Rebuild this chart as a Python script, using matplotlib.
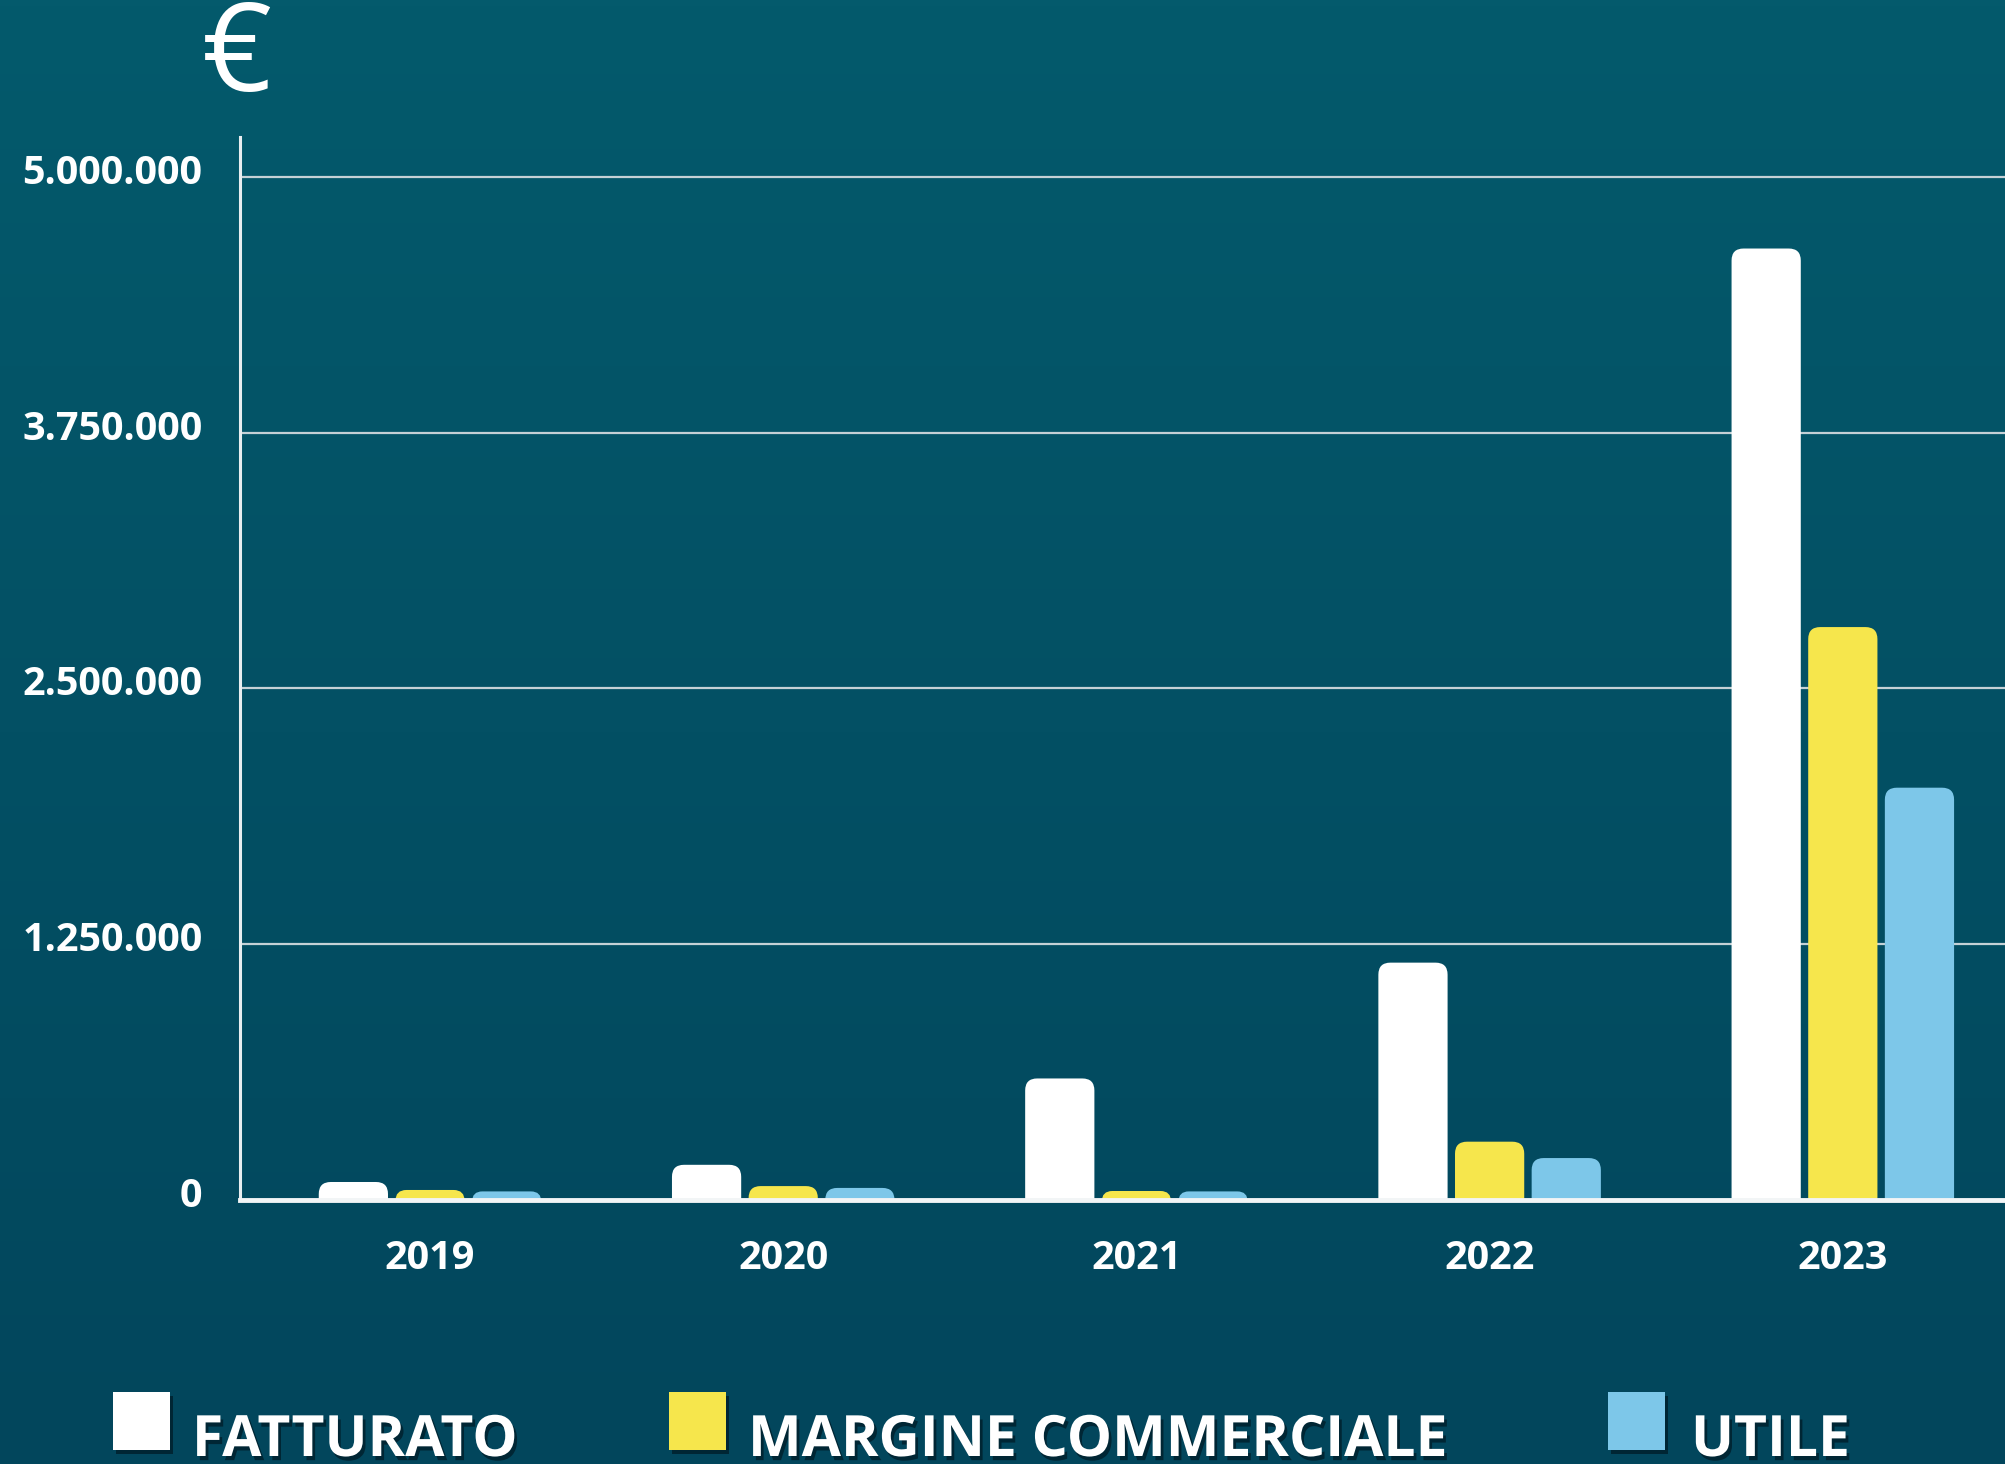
import numpy as np
import matplotlib
matplotlib.use("Agg")
import matplotlib.pyplot as plt
from matplotlib.patches import FancyBboxPatch, Rectangle
import matplotlib.patheffects as pe
import matplotlib.transforms as mtransforms

# ---------------- data ----------------
years = ["2019", "2020", "2021", "2022", "2023"]
series_names = ["FATTURATO", "MARGINE COMMERCIALE", "UTILE"]
fatturato = [88000, 172000, 594000, 1160000, 4650000]
margine = [49000, 68000, 44000, 285000, 2800000]
utile = [42000, 59000, 42000, 205000, 2015000]
y_ticks = [0, 1250000, 2500000, 3750000, 5000000]
y_tick_labels = ["0", "1.250.000", "2.500.000", "3.750.000", "5.000.000"]
colors = ["#ffffff", "#f6e64c", "#7dc7e9"]

plt.rcParams["font.family"] = ["Open Sans", "DejaVu Sans"]

W, H = 2006, 1464
DPI = 100
fig = plt.figure(figsize=(W / DPI, H / DPI), dpi=DPI)

# background gradient
bg = fig.add_axes([0, 0, 1, 1], zorder=-10)
top = np.array([4, 90, 108]) / 255.0
bot = np.array([2, 70, 92]) / 255.0
t = np.linspace(0, 1, 256)[:, None]
grad = (top[None, :] * (1 - t) + bot[None, :] * t)[:, None, :]
bg.imshow(grad, aspect="auto", extent=[0, 1, 0, 1])
bg.axis("off")

# main axes
left_px, right_px, bottom_px, top_px = 240, 2006, 1200, 137
ax = fig.add_axes([left_px / W, 1 - bottom_px / H, (right_px - left_px) / W, (bottom_px - top_px) / H])
ax.set_facecolor("none")
xlim = (-0.538, 4.462)
ylim = (0, 5195000)
ax.set_xlim(*xlim)
ax.set_ylim(*ylim)

x = np.arange(len(years))
bw = 0.196
step = 0.217
all_series = [fatturato, margine, utile]

px_per_x = (right_px - left_px) / (xlim[1] - xlim[0])
px_per_y = (bottom_px - top_px) / (ylim[1] - ylim[0])
r_px = 12
rx = r_px / px_per_x
ry = r_px / px_per_y
aspect = ry / rx

for k, (vals, col) in enumerate(zip(all_series, colors)):
    bars = ax.bar(x + (k - 1) * step, vals, width=bw, color=col, zorder=3)
    for b in bars:
        bx, bwid, bh = b.get_x(), b.get_width(), b.get_height()
        b.remove()
        hh = bh + ry
        r_eff = min(rx, bwid / 2, hh / aspect / 2)
        p = FancyBboxPatch((bx, -ry), bwid, hh,
                           boxstyle=f"round,pad=0,rounding_size={r_eff}",
                           mutation_aspect=aspect, facecolor=col,
                           edgecolor="none", zorder=3)
        ax.add_patch(p)

ax.set_yticks(y_ticks)
ax.set_yticklabels(y_tick_labels)
ax.set_xticks(x)
ax.set_xticklabels(years)
ax.yaxis.grid(True, color="#c5d1d6", linewidth=1.6, zorder=1)
ax.set_axisbelow(True)
for s in ["top", "right"]:
    ax.spines[s].set_visible(False)
ax.spines["left"].set_color("#e8eef0")
ax.spines["left"].set_linewidth(2.2)
ax.spines["bottom"].set_color("#f2f5f6")
ax.spines["bottom"].set_linewidth(3.5)
ax.spines["bottom"].set_zorder(5)
ax.tick_params(axis="both", length=0, colors="white")
ax.tick_params(axis="y", pad=27)
ax.tick_params(axis="x", pad=28)
up = mtransforms.ScaledTranslation(0, 8 / DPI, fig.dpi_scale_trans)
for lab in ax.get_yticklabels():
    lab.set_transform(lab.get_transform() + up)
for lab in ax.get_yticklabels() + ax.get_xticklabels():
    lab.set_fontsize(28.5)
    lab.set_fontweight("bold")
    lab.set_color("white")

# euro sign
fig.text(237 / W, 1 - 91 / H, "€", ha="center", va="baseline", fontsize=88,
         color="white")

# legend
shadow = [pe.SimplePatchShadow(offset=(2, -3), shadow_rgbFace="#001e2a", alpha=0.8), pe.Normal()]
sq_x = [113, 669, 1608]
txt_x = [192, 748, 1691]
for name, col, sx, tx in zip(series_names, colors, sq_x, txt_x):
    r = Rectangle((sx / W, 1 - 1450 / H), 57 / W, 58 / H, transform=fig.transFigure,
                  facecolor=col, edgecolor="none", zorder=5)
    r.set_path_effects(shadow)
    fig.patches.append(r)
    fig.text(tx / W, 1 - 1456 / H, name, ha="left", va="baseline", fontsize=41,
             fontweight="bold", color="white", path_effects=shadow)

fig.savefig("out.png", dpi=DPI)
